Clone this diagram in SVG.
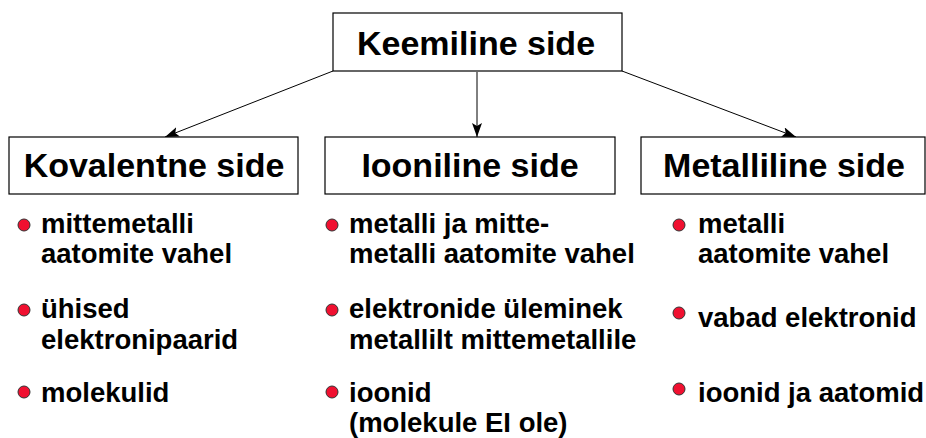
<svg xmlns="http://www.w3.org/2000/svg" width="926" height="438" viewBox="0 0 926 438">
<style>
.box{fill:#fff;stroke:#000;stroke-width:1.2}
.h{font-family:"Liberation Sans",Arial,sans-serif;font-weight:bold;font-size:34px;fill:#000;text-anchor:middle}
.t{font-family:"Liberation Sans",Arial,sans-serif;font-weight:bold;font-size:27.5px;fill:#000}
.b{fill:#f01030;stroke:#333;stroke-width:1}
.c{stroke:#000;stroke-width:1;fill:none;marker-end:url(#ah)}
</style>
<defs>
<marker id="ah" viewBox="0 0 14 10" refX="14" refY="5" markerWidth="14" markerHeight="10" markerUnits="userSpaceOnUse" orient="auto">
<path d="M0,0 L14,5 L0,10 L3,5 z" fill="#000"/>
</marker>
</defs>
<rect width="926" height="438" fill="#fff"/>
<g id="connectors">
<line class="c" x1="333" y1="71" x2="165" y2="137"/>
<line class="c" x1="477" y1="72" x2="477" y2="137"/>
<line class="c" x1="622" y1="71" x2="796" y2="137"/>
</g>
<g id="keemiline">
<rect class="box" x="333" y="13" width="289" height="58"/>
<text class="h" x="476" y="55">Keemiline side</text>
</g>
<g id="kovalentne">
<rect class="box" x="9" y="137" width="289" height="57"/>
<text class="h" x="154" y="177">Kovalentne side</text>
</g>
<g id="iooniline">
<rect class="box" x="325" y="137" width="290" height="57"/>
<text class="h" x="470" y="177">Iooniline side</text>
</g>
<g id="metalliline">
<rect class="box" x="641" y="137" width="284" height="57"/>
<text class="h" x="784" y="177">Metalliline side</text>
</g>
<g id="kovalentne-list">
<circle class="b" cx="24" cy="225" r="6"/>
<text class="t" x="41" y="233">mittemetalli</text>
<text class="t" x="41" y="263">aatomite vahel</text>
<circle class="b" cx="24" cy="310" r="6"/>
<text class="t" x="41" y="318">ühised</text>
<text class="t" x="41" y="349">elektronipaarid</text>
<circle class="b" cx="24" cy="392" r="6"/>
<text class="t" x="41" y="402">molekulid</text>
</g>
<g id="iooniline-list">
<circle class="b" cx="332" cy="225" r="6"/>
<text class="t" x="349" y="233">metalli ja mitte-</text>
<text class="t" x="349" y="263">metalli aatomite vahel</text>
<circle class="b" cx="332" cy="310" r="6"/>
<text class="t" x="349" y="318">elektronide üleminek</text>
<text class="t" x="349" y="349">metallilt mittemetallile</text>
<circle class="b" cx="332" cy="392" r="6"/>
<text class="t" x="349" y="402">ioonid</text>
<text class="t" x="349" y="432">(molekule EI ole)</text>
</g>
<g id="metalliline-list">
<circle class="b" cx="679" cy="225" r="6"/>
<text class="t" x="698" y="233">metalli</text>
<text class="t" x="698" y="263">aatomite vahel</text>
<circle class="b" cx="679" cy="313" r="6"/>
<text class="t" x="698" y="327">vabad elektronid</text>
<circle class="b" cx="679" cy="389" r="6"/>
<text class="t" x="698" y="402">ioonid ja aatomid</text>
</g>
</svg>
